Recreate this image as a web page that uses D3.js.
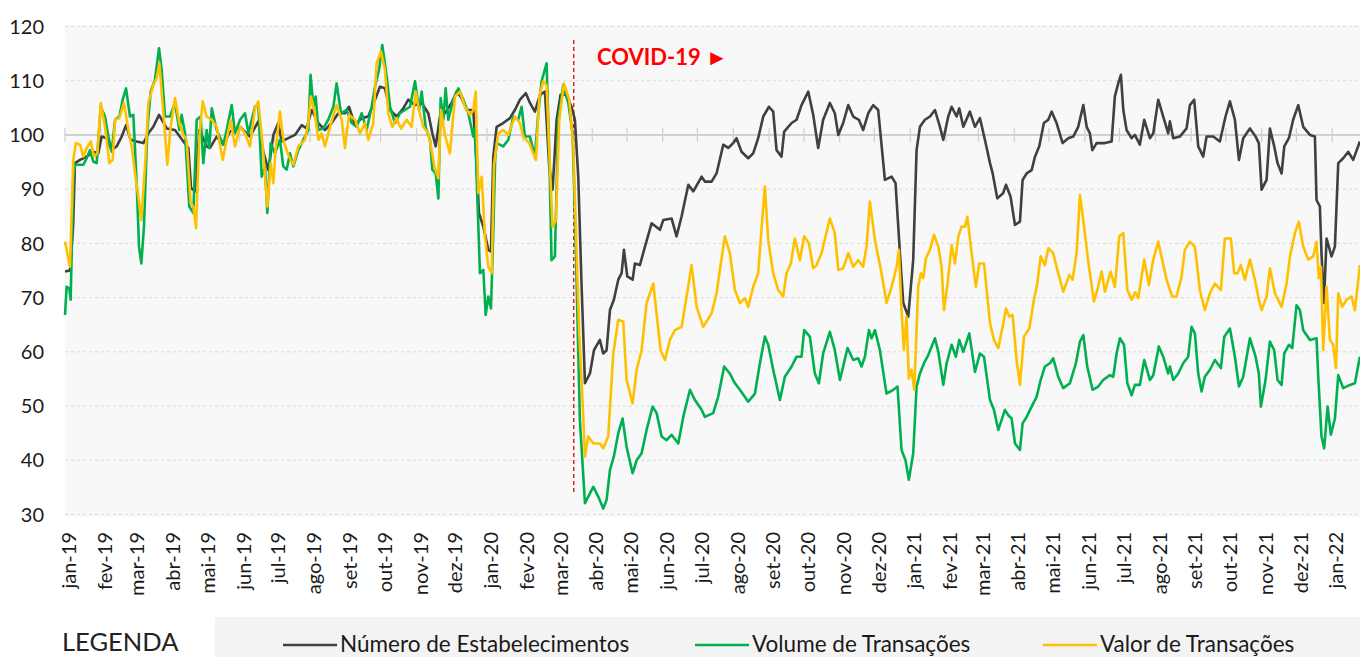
<!DOCTYPE html>
<html>
<head>
<meta charset="utf-8">
<script src="https://cdn.jsdelivr.net/npm/d3@7"></script>
<style>
  body { margin: 0; background: #fff; }
  svg { display: block; font-family: Lato, "Noto Sans", sans-serif; }
</style>
</head>
<body>
<svg id="chart" width="1360" height="657"></svg>
<script>
// dias contados a partir de 01/01/2019
var estabDias = [0,4.3,7,8.6,13,18.7,24.5,28.8,31.7,36,40.4,44.7,49,52.8,56.8,62,67.8,72.1,76.4,81.3,88,95.1,102.4,106.7,109,112.4,116.2,122.5,125.4,131.2,136.9,142.7,151.4,160,167.2,171.5,175.9,180.2,184.5,187.4,193.1,198.9,204.7,209,213.3,219.1,224.8,230.6,236.4,242.1,245.6,250.8,256.6,262.3,268.1,272.4,276.7,281.1,286.8,292.6,296.9,302.7,308.5,314.2,317.7,320.6,324.3,328.6,334.4,338.7,343,347.4,353.1,356,358,361.8,366.1,368.4,370.4,373.3,379,384.8,389.1,393.5,398.6,402.1,406.4,410.7,415.1,418.8,421.7,425.2,428.6,433.2,438.1,441,443.9,446.8,449.7,454,457.5,462.6,465.5,468.4,471.3,474.7,478.5,481.4,483.4,486.3,490.9,492.9,497.2,501.6,507.3,514.5,517.4,524.6,528.9,533.3,539.1,543.4,550.6,553.4,559.2,563.5,569.3,573.6,577.9,580.8,585.1,590.9,595.2,599.5,603.9,608.8,612.5,615.4,619.7,622,628.4,632.7,637,642.8,647.1,651.4,655.7,661.5,665.8,668.8,673,677.4,681.7,686.6,690.3,694.7,699,703.3,709.1,714.9,718.3,722.1,725,729.3,733.6,736.5,739.4,743.7,748.1,752.4,756.7,759.6,763.9,766.8,771.1,773.4,776.9,782.6,787,791.3,795.6,800,802.3,806.3,811.5,813.8,817.8,821.6,825.9,828.2,831.7,836,838.9,842.6,846.6,850.4,853.3,857.6,862.8,867.7,872,876.3,880.7,883.6,886.4,888.5,892.2,899.4,905.2,908,910.9,913.2,915.3,918.1,922.5,925.3,929.6,933.4,938.3,941.2,945.5,949.8,954.1,955.6,958.5,964.2,970,972.9,976.6,980.1,984.4,987.3,993.1,998.8,1003.7,1007.5,1011.8,1015.3,1019,1024.8,1029.7,1032.5,1034.9,1039.2,1042.1,1045.8,1048.7,1052.2,1054.5,1058.5,1062.2,1066.6,1070.9,1076.7,1081,1082.4,1085.3,1086.7,1088.8,1091.1,1095.4,1098.3,1101.2,1105.5,1109.8,1114.1,1119.9];
var estabValores = [74.8,75,83,94.8,95.4,96,96.9,96.6,99.7,99.4,97.2,97.9,99.7,101.8,99.1,98.8,98.5,100.3,101.5,103.7,101.2,100.9,98.8,97.6,90.2,89.6,100.9,97.9,97.6,99.7,98.2,100.6,101.5,99.7,102.5,96.9,93.5,100,102.2,98.8,99.4,100,101.8,101.2,104.6,102.2,100.9,102.2,104,104,105.2,101.8,103.1,103.4,106.5,108.9,108.6,104.6,103.4,104.9,106.5,105.5,105.9,104,100.3,97.9,103.4,104,105.9,108,106.8,104.6,104.6,94.8,85.6,83.1,78.8,78.5,96,101.5,102.2,103.1,104.6,106.5,107.7,105.9,104.3,107.4,108,94.2,89.9,102.8,107.4,107.4,105.2,102.8,92.3,72,54.2,56,60.3,62.2,59.7,60.3,67.7,69.6,73.3,74.5,78.8,73.9,73.3,76.3,76,79.4,83.7,82.5,84.3,84.6,81.3,85,90.8,89.6,92.3,91.4,91.4,92.9,98.2,97.6,98.5,99.4,96.9,95.7,96.6,99.4,103.4,105.2,104.3,97.2,96,100.6,102.2,102.8,105.5,108,103.7,97.6,102.8,105.9,104,100,102.2,105.5,103.4,102.8,100.9,104,105.5,104.6,91.7,92.3,91.1,78.2,69,66.5,77,97.2,101.5,102.8,103.4,104.6,101.5,99.1,103.4,105.2,103.4,104.9,101.5,104.3,101.5,103.1,99.1,94.8,92.9,88.3,89.3,90.8,88.6,83.4,84,91.7,92.9,93.5,96,97.9,102.2,102.8,104.3,102.2,98.5,99.4,99.7,101.5,105.5,101.5,100.3,97.2,98.5,98.5,98.8,107.1,109.5,111.1,104.6,100.9,99.4,100,98.2,102.8,99.4,100.3,106.5,103.4,100.3,102.5,99.4,99.7,101.2,105.5,106.5,97.9,96,99.7,99.7,98.8,103.4,106.2,102.8,95.4,99.4,101.2,99.7,98.5,89.9,91.7,101.2,97.9,94.8,92.9,97.9,99.4,102.8,105.5,101.5,100,99.7,88,86.8,78.2,69,80.9,77.6,79.4,94.8,95.7,96.9,95.4,98.8];

var volumeDias = [0,1.4,3.7,4.9,7.2,8.7,15.9,18.7,21.6,24.5,27.4,30.9,34.6,37.5,40.4,43.3,47,49.9,52.8,56.2,59.1,62,64,66,68.3,71.2,74.1,77.8,81.3,83.6,86.5,90.8,95.1,98.9,100.9,103.8,107.5,111,113.9,117.3,119.6,122.5,124.8,126.9,131.2,136.9,139.8,144.2,147,151.4,155.7,158.6,164.3,167.2,170.1,173,175,177.9,181.6,185.9,188.8,191.7,194.6,197.5,201.8,206.1,210.4,212.4,214.8,216.8,219.1,223.4,227.7,232.1,234.9,238.7,243.6,247.9,252.2,256.6,260.9,265.2,268.1,271.6,274.4,278.2,281.1,285.4,289.7,294,298.4,302.7,306.2,308.5,311.9,315.7,317.7,320.6,322.9,324.9,327.2,329.2,331.5,335.8,340.2,344.5,348.8,353.1,354.6,356.9,358.9,361.8,363.8,366.1,368.4,370.4,372,373.3,379,383.4,387.7,392,394.9,397.8,402.1,406.4,409.3,412.2,416.5,418.8,420.8,423.7,426.6,430.9,435.3,439,441.9,445.3,449.7,454,456.9,461.2,465.5,468.4,471.3,474.7,478.5,482.2,485.7,490.9,494.4,498.7,503,508.2,511.7,516,520.3,524.6,530.4,534.7,540.5,544.8,550.6,553.4,560.6,564.9,570.1,575,579.4,583.7,590.9,596.7,601,605.3,608.2,612.5,618.3,622.6,628.4,632.7,637,639.3,644.2,648.5,652,655.7,661.5,665.8,670.2,676.8,681.7,686,688.9,691.8,695.3,697.6,700.5,704.8,710.5,716.3,720,723.5,726.9,729.8,733.6,736.5,739.4,742.9,746.6,752.4,755.3,759.6,762.5,766.8,770.5,773.4,776.9,782.1,787,791.3,794.8,800,803.4,807.2,812.9,815.8,818.7,821.6,825.9,828.2,831.7,836,840.3,843.8,847.5,851.8,854.7,859,863.4,869.1,874.3,877.8,880.7,884.1,888.7,893.6,897.9,903.7,906.6,909.5,912.4,915.9,918.8,922.5,925.3,929.6,933.4,938.3,941.2,946,949.8,954.1,955.6,958.5,962.8,967.1,971.4,974.3,977.2,980.1,983,985.8,990.2,994.5,999.7,1002.6,1007.5,1011.8,1015.3,1019,1024.8,1029.7,1032.5,1034.3,1038.3,1042.1,1045.8,1048.7,1052.2,1054.5,1058.5,1061.4,1065.1,1068,1070.9,1076.7,1082.4,1083.9,1086.7,1089,1092,1094.8,1098.3,1101.2,1105.5,1111.3,1115.6,1119.9];
var volumeValores = [66.8,72,71.7,69.6,92.3,94.5,94.5,95.7,97.2,95.1,94.8,105.2,103.4,99.7,96.9,102.8,103.4,106.5,108.6,103.4,103.7,91.1,79.4,76.3,83.1,100.9,108,110.2,116,112,103.4,103.4,105.9,100.9,103.7,100.3,86.8,85.6,102.8,103.4,94.8,100.9,97.6,104.9,100.9,98.2,100.9,105.5,100.3,102.8,104,100.3,105.2,105.5,92.3,94.2,85.6,98.5,96.6,99.1,94.2,93.6,96.6,94.2,97.2,99.1,100.9,111.1,105.2,107.1,100.9,101.2,102.8,105.2,109.5,104,104.6,102.2,101.5,104,100.9,105.2,108.9,112,116.6,110.8,105.2,102.2,104,104.6,105.2,109.9,104.6,108,101.5,99.1,93.6,92.9,88.3,106.8,102.8,108.6,102.8,106.5,108.6,106.5,104,99.7,101.2,86.8,74.5,75.1,66.8,70.2,68,82,95.4,98.5,97.9,99.1,103.4,102.8,105.2,99.7,99.7,96,104,109.9,113.2,96.6,76.9,77.6,102.8,109.2,105.9,100.3,78.2,47.4,32.1,33.9,35.1,33.3,31.1,32.7,38.2,40.7,45,47.7,42.5,37.6,40,41.3,45.6,49.9,48.7,44.4,43.7,44.7,43.1,48,53,51.1,49.3,48,48.7,51.7,57.3,56,54.2,53,50.8,52.3,57.9,62.8,61.3,56.7,51.1,55.4,57.3,59.1,59.1,64,62.8,56,54.2,59.7,63.7,60.3,54.8,60.7,58.5,58.8,57.3,59.1,64,62.5,64,60.3,52.3,53,53.6,41.9,40,36.4,41.3,53.6,56,57.9,59.4,62.5,60,53.9,57.9,61.3,59.1,62.2,60,63.4,56.3,59.7,59.1,51.1,49.3,45.6,49.3,48.3,47.7,43.1,41.9,46.8,48,49.9,51.7,54.8,57.3,57.9,58.8,55.4,53.3,54.2,57.9,61.9,63.1,57.3,53,53.6,54.8,55.7,55.4,59.7,62.5,61.3,54.2,52,53.9,53.9,58.5,54.8,55.7,61,59.1,56,57.3,54.8,56,57.9,59.1,64.6,63.4,56,52.7,55.4,56.7,58.5,57,62.8,64.3,59.1,53.6,55.4,62.5,59.1,56,49.9,54.8,61.9,60.3,54.8,53.9,59.7,61.3,60.7,68.6,67.7,64,62.2,62.5,55.4,44.4,42.2,49.9,44.7,47.7,55.7,53.3,53.9,54.2,59.1];

var valorDias = [0,2,4.3,7.2,9.5,13,15.9,18.7,22.2,25.1,28,30.9,34.6,38.4,41.2,43.3,47,51,54.8,57.7,60.6,63.4,66,69.2,72.1,76.4,79.3,81.6,85.1,88.5,91.4,95.1,98.9,102.4,105.2,108.7,111,113.3,116.2,119.1,122.5,126.9,131.2,136.4,139.8,143.3,147,151.4,155.7,160,164.3,167.2,171,175,177.9,180.2,182,185.9,188.8,193.1,197.5,201.8,207.5,210.4,212.7,215.6,219.1,222,224.8,229.2,234.9,239.3,242.1,245.6,250.8,255.1,259.4,262.3,266.6,269.5,273.3,276.7,279.6,283.1,286.8,290.6,295.5,299.8,303.3,306.2,309.9,314.2,317.1,319.4,322.9,325.2,328.6,332.9,337.3,341.6,345.9,350.3,353.1,355.2,357.5,360.4,363.2,366.1,369,371,374.7,379,383.4,389.1,393.5,396.3,401.5,405,407.3,410.2,413.6,416.5,419.4,421.7,424.6,427.5,431.5,436.1,439.6,442.5,444.8,447.7,449.7,452.5,456.9,462.6,465.5,469.8,474.2,478.5,482.8,485.7,490.9,494.4,498.7,503,508.8,515.1,518.9,523.2,527.5,533.3,537.6,541.9,546.3,552,559.2,563.5,567.2,570.7,575,579.4,583.7,588,590.9,595.2,599.5,603,605.3,608.2,612.5,616.8,621.1,624,627.8,631.2,635.6,639.3,643.4,647.1,650,654.3,661.5,665.8,668.8,673,677.4,681.7,686,690.3,693.2,696.1,700.5,706.2,710.5,714.9,719.2,721.2,723.5,725.5,727.8,729.8,732.1,734.5,737.9,740.2,742.3,744.6,748.1,751.5,755.3,758.1,760.2,763,766.8,769.7,772.6,775.4,778.3,780.4,784.1,787.8,790.7,794.8,800,803.4,807.2,810.9,813.8,816.7,819.5,823,825.9,829.4,834,838,840.9,843.8,847.5,850.4,854.7,858.2,863.4,868.6,871.4,874.9,877.8,880.7,885,889.9,893.6,896.5,899.4,904.3,908,911.8,915.3,918.8,922.5,925.5,928.2,933.4,937.4,941.2,945.5,948.9,952.7,954.7,957.6,961.3,965.7,968.5,972.9,977.2,981.5,985.8,990.2,994.5,999.7,1003.1,1008.3,1011.2,1014.1,1017,1020.4,1024.8,1029.1,1032.5,1034.9,1039.2,1042.1,1046.4,1052.2,1056.5,1059.4,1063.7,1067.1,1070.9,1075.2,1079.5,1082.4,1084.4,1086.2,1088.2,1091.1,1094,1096.8,1099.2,1101.2,1104.6,1108.4,1112.7,1115.6,1119.9];
var valorValores = [80.3,78.2,75.7,95.4,98.5,98.2,96,97.6,98.8,96,96.6,105.9,101.5,94.8,95.4,102.8,103.1,105.9,100.9,97.9,92.9,88.6,84.3,94.2,105.9,109.2,110.5,113.2,104,94.5,101.5,106.8,102.2,100,99.1,87.4,86.8,82.8,99.7,106.2,103.4,102.8,101.5,95.4,99.1,102.8,97.9,101.5,100.3,97.9,104.9,106.2,97.9,86.8,94.8,91.1,97,104.3,99.1,96.3,94.5,97.9,99.1,102.2,107.1,104.6,99.1,100.3,97.9,101.5,105.5,102.8,97.6,103.7,102.8,100.3,102.2,99.1,102.2,113.2,115.4,112,104,101.5,103.1,101.2,102.8,101.5,108,104.6,101.5,100.3,97.2,94.2,92,104.6,100,96.6,107.1,108,105.2,103.7,104.6,108,89.3,92.3,81.3,75.7,74.5,94.5,100.3,100.9,100,103.4,102.2,99.7,98.5,96.6,95.4,107.1,109.9,109.2,94.2,83.1,84.3,102.8,109.5,106.5,97.9,78.2,63.4,50.5,40.7,44.4,43.1,43.1,42.2,44.4,59.7,65.9,65.6,54.8,50.5,56.7,60.3,69,72.6,60.3,58.5,62.2,64,64.6,70.2,76,68.3,64.6,67.1,70.8,76.3,81.3,78.2,71.4,69,69.9,68.3,72,74.5,84.3,90.5,80.6,74.5,71.4,70.2,74.5,76.3,80.9,76.9,81.3,80,75.4,76,78.2,84.6,81.9,75.1,75.4,78.2,75.7,76.9,75.7,79.4,87.7,80.6,74.5,69,72,75.7,78.8,67.7,60.3,66.5,55.1,56.7,53,72,74.5,73.6,77.3,78.8,81.6,79.4,75.7,67.7,72,79.7,76.3,81.3,83.1,83.1,84.9,78.2,72,76.3,76.3,65.3,62.2,60.7,64.6,68,66.5,66.8,58.5,53.9,62.8,64.3,69.6,72.6,77.6,76,79.1,78.2,75.1,71.1,74.2,73.3,78.2,88.9,84.3,76.6,69.3,72,74.8,71.1,74.8,72,81.3,81.9,71.4,69.6,71,69.9,77,72.3,77,80.3,77,73.3,72,70.2,70.2,73.9,78.8,80.3,79.4,71.4,67.7,70.8,72.6,71.4,80.9,80.9,74.5,74.5,76,73.3,77,73.3,69.6,67.7,70.2,75.4,70.8,68.3,72.6,77.6,81.9,84,79.4,77,77.6,80.3,73.6,75.7,60.3,72,62.2,61.3,57,70.8,68.3,69.6,70.2,67.7,76];

var meses = ["jan","fev","mar","abr","mai","jun","jul","ago","set","out","nov","dez"];
var yTicks = [30, 40, 50, 60, 70, 80, 90, 100, 110, 120];
var seriesNomes = ["Número de Estabelecimentos", "Volume de Transações", "Valor de Transações"];
var seriesCores = ["#404040", "#00b050", "#ffc000"];
var diaCovid = 440;

(function() {
    var inicio = Date.UTC(2019, 0, 1);
    function dia(d) { return new Date(inicio + d * 864e5); }
    var fim = dia(1120);

    var svg = d3.select("#chart");
    var esq = 65, dir = 1360, topo = 26.5, base = 514.5;

    var x = d3.scaleUtc().domain([dia(0), fim]).range([esq, dir]);
    var y = d3.scaleLinear().domain([30, 120]).range([base, topo]);

    // fundo da área do gráfico
    svg.append("rect")
        .attr("x", esq).attr("y", topo - 1)
        .attr("width", dir - esq).attr("height", base - topo + 3)
        .attr("fill", "#f8f8f8");

    // grade horizontal
    svg.append("g").selectAll("line")
        .data(yTicks.filter(function(t) { return t !== 100; }))
        .join("line")
        .attr("x1", esq).attr("x2", dir)
        .attr("y1", function(d) { return y(d); })
        .attr("y2", function(d) { return y(d); })
        .attr("stroke", "#d9d9d9")
        .attr("stroke-width", 1)
        .attr("stroke-dasharray", "3,3");

    // rótulos do eixo y
    svg.append("g").selectAll("text")
        .data(yTicks)
        .join("text")
        .attr("x", 44)
        .attr("y", function(d) { return y(d); })
        .attr("dy", "0.36em")
        .attr("text-anchor", "end")
        .attr("font-size", 20)
        .attr("fill", "#1a1a1a")
        .text(function(d) { return d; });

    // eixo x no nível 100
    var meses0 = d3.utcMonth.range(dia(0), fim);
    svg.append("line")
        .attr("x1", esq).attr("x2", dir)
        .attr("y1", y(100)).attr("y2", y(100))
        .attr("stroke", "#d0d0d0")
        .attr("stroke-width", 2);

    svg.append("g").selectAll("line")
        .data(meses0)
        .join("line")
        .attr("x1", function(d) { return x(d); })
        .attr("x2", function(d) { return x(d); })
        .attr("y1", y(100) - 7).attr("y2", y(100) + 7)
        .attr("stroke", "#cfcfcf")
        .attr("stroke-width", 1.2);

    // rótulos dos meses
    svg.append("g").selectAll("text")
        .data(meses0)
        .join("text")
        .attr("transform", function(d) { return "translate(" + (x(d) + 4) + ",532) rotate(-90)"; })
        .attr("dy", "0.36em")
        .attr("text-anchor", "end")
        .attr("font-size", 20)
        .attr("fill", "#1a1a1a")
        .text(function(d) {
            return meses[d.getUTCMonth()] + "-" + String(d.getUTCFullYear()).slice(2);
        });

    // linha COVID
    svg.append("line")
        .attr("x1", x(dia(diaCovid))).attr("x2", x(dia(diaCovid)))
        .attr("y1", 40).attr("y2", 493)
        .attr("stroke", "#e00000")
        .attr("stroke-width", 1.3)
        .attr("stroke-dasharray", "4,3");

    svg.append("text")
        .attr("x", 597).attr("y", 65)
        .attr("font-size", 22)
        .attr("font-weight", "bold")
        .attr("fill", "#ff0000")
        .text("COVID-19 \u25BA");

    // séries
    var series = [
        { dias: estabDias, valores: estabValores },
        { dias: volumeDias, valores: volumeValores },
        { dias: valorDias, valores: valorValores }
    ];

    var linha = d3.line()
        .x(function(d) { return x(dia(d[0])); })
        .y(function(d) { return y(d[1]); });

    series.forEach(function(s, i) {
        svg.append("path")
            .datum(d3.zip(s.dias, s.valores))
            .attr("d", linha)
            .attr("fill", "none")
            .attr("stroke", seriesCores[i])
            .attr("stroke-width", 2.6)
            .attr("stroke-linejoin", "round");
    });

    // legenda
    svg.append("text")
        .attr("x", 62).attr("y", 651)
        .attr("font-size", 25.5)
        .attr("fill", "#222")
        .text("LEGENDA");

    svg.append("rect")
        .attr("x", 215).attr("y", 617)
        .attr("width", 1145).attr("height", 40)
        .attr("fill", "#f3f3f3");

    var legX = [283, 695, 1043];
    seriesNomes.forEach(function(n, i) {
        svg.append("line")
            .attr("x1", legX[i]).attr("x2", legX[i] + 54)
            .attr("y1", 645).attr("y2", 645)
            .attr("stroke", seriesCores[i])
            .attr("stroke-width", 2.6);
        svg.append("text")
            .attr("x", legX[i] + 57).attr("y", 652)
            .attr("font-size", 22.5)
            .attr("fill", "#1a1a1a")
            .text(n);
    });
})();
</script>
</body>
</html>
